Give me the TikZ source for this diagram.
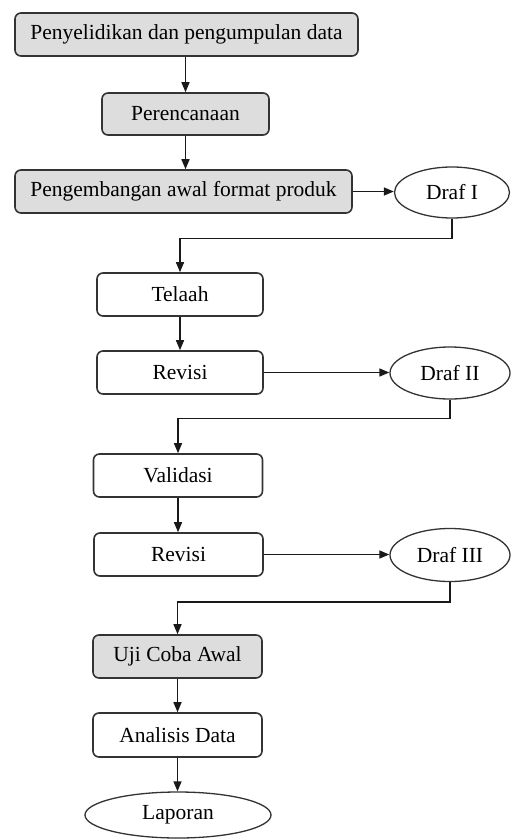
\documentclass[tikz,border=0pt]{standalone}
\usepackage{fontspec}
\setmainfont{Liberation Serif}
\usetikzlibrary{shapes.geometric,arrows.meta}
\begin{document}
\begin{tikzpicture}[x=1pt,y=-1pt,
  every node/.style={font=\fontsize{21.5}{24}\selectfont, inner sep=0pt},
  stepbox/.style={draw=black!80, line width=1.6pt, rounded corners=6pt, fill=white},
  greybox/.style={stepbox, fill=gray!27},
  draftell/.style={ellipse, draw=black!80, line width=1.3pt, fill=white},
  arr/.style={draw=black!90, line width=1.5pt, -{Triangle[length=10pt,width=8pt]}}
]
\useasboundingbox (0,0) rectangle (511,840);
\node[greybox, minimum width=343pt, minimum height=43pt] (b1) at (186.5,34.5) {Penyelidikan dan pengumpulan data};
\node[greybox, minimum width=167pt, minimum height=42pt] (b2) at (185.5,114) {Perencanaan};
\node[greybox, minimum width=337pt, minimum height=43pt] (b3) at (183.5,191.5) {Pengembangan awal format produk};
\node[draftell, minimum width=115pt, minimum height=51pt] (d1) at (452,192.5) {Draf I};
\node[stepbox, minimum width=166pt, minimum height=43pt] (telaah) at (180,294.5) {Telaah};
\node[stepbox, minimum width=166pt, minimum height=43pt] (rev1) at (180,372.5) {Revisi};
\node[draftell, minimum width=120pt, minimum height=52pt] (d2) at (450,373) {Draf II};
\node[stepbox, minimum width=169pt, minimum height=43pt] (valid) at (178,475.5) {Validasi};
\node[stepbox, minimum width=169pt, minimum height=43pt] (rev2) at (178.5,554.5) {Revisi};
\node[draftell, minimum width=120pt, minimum height=53pt] (d3) at (450,555) {Draf III};
\node[greybox, minimum width=169pt, minimum height=43pt] (uji) at (177.5,656.5) {Uji Coba Awal};
\node[stepbox, minimum width=169pt, minimum height=44pt] (anal) at (177.5,735) {Analisis Data};
\node[draftell, minimum width=186pt, minimum height=46pt] (lap) at (178,815) {Laporan};

\draw[arr] (b1.south -| b2.north) -- (b2.north);
\draw[arr] (b2.south) -- (b2.south |- b3.north);
\draw[arr] (b3.east) -- (b3.east -| d1.west);
\draw[arr] (d1.south) -- ++(0,20) -| (telaah.north);
\draw[arr] (telaah.south) -- (rev1.north);
\draw[arr] (rev1.east) -- (rev1.east -| d2.west);
\draw[arr] (d2.south) -- ++(0,19) -| (valid.north);
\draw[arr] (valid.south) -- (valid.south |- rev2.north);
\draw[arr] (rev2.east) -- (rev2.east -| d3.west);
\draw[arr] (d3.south) -- ++(0,20) -| (uji.north);
\draw[arr] (uji.south) -- (anal.north);
\draw[arr] (anal.south) -- (anal.south |- lap.north);
\end{tikzpicture}
\end{document}
